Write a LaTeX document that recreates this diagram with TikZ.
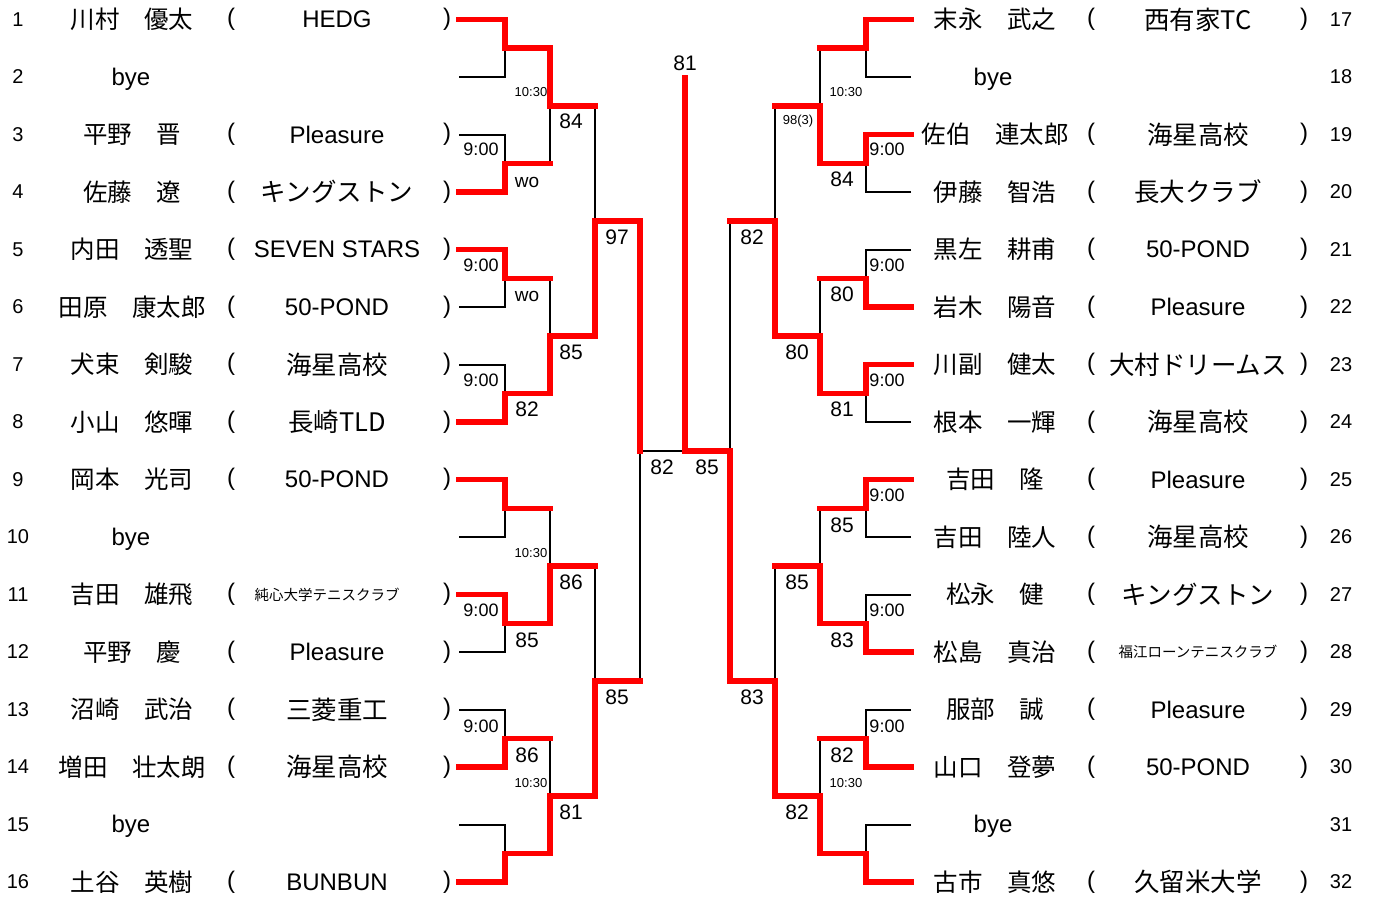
\documentclass[tikz,border=0pt]{standalone}
\usepackage{fontspec}
\setmainfont{Liberation Sans}
\newfontfamily\jp{Noto Sans CJK JP}
\newcommand{\jclub}[1]{{\jp\fontsize{25.5}{26}\selectfont #1}}
\newcommand{\jsmall}[1]{{\jp\fontsize{14.5}{15}\selectfont #1}}
\definecolor{winred}{HTML}{FF0000}

\begin{document}
\begin{tikzpicture}[x = 1pt, y = -1pt]

\tikzset{
winner/.style = {draw = winred, line width = 5.5pt, line cap = rect},
loser/.style = {draw = black, line width = 2pt},
seed/.style = {inner sep = 0pt, font = \fontsize{20}{20}\selectfont},
player/.style = {inner sep = 0pt, font = \jp\fontsize{24.5}{25}\selectfont},
byename/.style = {inner sep = 0pt, yshift = -2pt, font = \fontsize{24}{24}\selectfont},
club/.style = {inner sep = 0pt, font = \fontsize{24}{24}\selectfont},
paren/.style = {inner sep = 0pt, font = \fontsize{24}{24}\selectfont},
score/.style = {inner sep = 0pt, font = \fontsize{21}{21}\selectfont},
clock/.style = {inner sep = 0pt, font = \fontsize{18}{18}\selectfont},
walkover/.style = {inner sep = 0pt, font = \fontsize{19}{19}\selectfont},
smalltime/.style = {inner sep = 0pt, font = \fontsize{13}{13}\selectfont},
	}

\useasboundingbox (0, 0) rectangle (1373, 899);

% Player lines
\foreach \i in {1,...,16} {
  \pgfmathtruncatemacro\rr{\i+16}
  \coordinate (p\i) at (459, {19.5+(\i-1)*57.5});
  \coordinate (p\rr) at (911, {19.5+(\i-1)*57.5});
}
% Rounds
\foreach \k in {1,...,8} {
  \pgfmathtruncatemacro\rr{\k+8}
  \coordinate (m\k) at (505, {19.5+(2*\k-1.5)*57.5});
  \coordinate (m\rr) at (866, {19.5+(2*\k-1.5)*57.5});
}
\foreach \k in {1,...,4} {
  \pgfmathtruncatemacro\rr{\k+4}
  \coordinate (n\k) at (550, {19.5+(4*\k-2.5)*57.5});
  \coordinate (n\rr) at (820, {19.5+(4*\k-2.5)*57.5});
}
\foreach \k in {1,2} {
  \pgfmathtruncatemacro\rr{\k+2}
  \coordinate (q\k) at (595, {19.5+(8*\k-4.5)*57.5});
  \coordinate (q\rr) at (775, {19.5+(8*\k-4.5)*57.5});
}
\coordinate (s1) at (640, 450.75);
\coordinate (s2) at (730, 450.75);
\coordinate (f) at (685, 450.75);
\coordinate (top) at (685, 78);

% Results: winner/loser/match
\def\firstround{p1/p2/m1, p4/p3/m2, p5/p6/m3, p8/p7/m4, p9/p10/m5, p11/p12/m6, p14/p13/m7, p16/p15/m8,
  p17/p18/m9, p19/p20/m10, p22/p21/m11, p23/p24/m12, p25/p26/m13, p28/p27/m14, p30/p29/m15, p32/p31/m16}
\def\laterrounds{m1/m2/n1, m4/m3/n2, m6/m5/n3, m8/m7/n4, m10/m9/n5, m12/m11/n6, m14/m13/n7, m16/m15/n8,
  n2/n1/q1, n4/n3/q2, n6/n5/q3, n8/n7/q4, q1/q2/s1, q4/q3/s2}

% Lost
\foreach \wn/\ls/\mt in \firstround {\draw [loser] (\ls) -| (\mt);}
\foreach \wn/\ls/\mt in \laterrounds {\draw [loser] (\ls -| \mt) -- (\mt);}
\draw [loser] (s1) -- (f);

% Won
\foreach \wn/\ls/\mt in \firstround {\draw [winner] (\wn) -| (\mt);}
\foreach \wn/\ls/\mt in \laterrounds {\draw [winner] (\ls) -- (\ls -| \mt) (\wn) -| (\mt);}
\draw [winner] (s2) -- (f) -- (top);

% Left players
\foreach \i/\nm/\cl in {1/川村　優太/HEDG, 3/平野　晋/Pleasure, 4/佐藤　遼/\jclub{キングストン},
  5/内田　透聖/SEVEN STARS, 6/田原　康太郎/50-POND, 7/犬束　剣駿/\jclub{海星高校},
  8/小山　悠暉/\jclub{長崎TLD}, 9/岡本　光司/50-POND, 12/平野　慶/Pleasure,
  13/沼崎　武治/\jclub{三菱重工}, 14/増田　壮太朗/\jclub{海星高校}, 16/土谷　英樹/BUNBUN} {
  \pgfmathsetmacro\yy{19.5+(\i-1)*57.5}
  \node [seed] (num\i) at (18, \yy) {\i};
  \node [player] (name\i) at (132, \yy) {\nm};
  \node [paren] (lp\i) at (231, \yy) {(};
  \node [club] (club\i) at (337, \yy) {\cl};
  \node [paren] (rp\i) at (447, \yy) {)};
}
\node [seed] (num11) at (18, 594.5) {11};
\node [player] (name11) at (132, 594.5) {吉田　雄飛};
\node [paren] (lp11) at (231, 594.5) {(};
\node [club] (club11) at (327, 594.5) {\jsmall{純心大学テニスクラブ}};
\node [paren] (rp11) at (447, 594.5) {)};
\foreach \i in {2, 10, 15} {
  \pgfmathsetmacro\yy{19.5+(\i-1)*57.5}
  \node [seed] (num\i) at (18, \yy) {\i};
  \node [byename] (name\i) at (131, \yy) {bye};
}

% Right players
\foreach \i/\nm/\cl in {17/末永　武之/\jclub{西有家TC}, 19/佐伯　連太郎/\jclub{海星高校},
  20/伊藤　智浩/\jclub{長大クラブ}, 21/黒左　耕甫/50-POND, 22/岩木　陽音/Pleasure,
  23/川副　健太/\jclub{大村ドリームス}, 24/根本　一輝/\jclub{海星高校}, 25/吉田　隆/Pleasure,
  26/吉田　陸人/\jclub{海星高校}, 27/松永　健/\jclub{キングストン},
  28/松島　真治/\jsmall{福江ローンテニスクラブ}, 29/服部　誠/Pleasure, 30/山口　登夢/50-POND,
  32/古市　真悠/\jclub{久留米大学}} {
  \pgfmathsetmacro\yy{19.5+(\i-17)*57.5}
  \node [seed] (num\i) at (1341, \yy) {\i};
  \node [player] (name\i) at (995, \yy) {\nm};
  \node [paren] (lp\i) at (1091, \yy) {(};
  \node [club] (club\i) at (1198, \yy) {\cl};
  \node [paren] (rp\i) at (1304, \yy) {)};
}
\foreach \i in {18, 31} {
  \pgfmathsetmacro\yy{19.5+(\i-17)*57.5}
  \node [seed] (num\i) at (1341, \yy) {\i};
  \node [byename] (name\i) at (993, \yy) {bye};
}

% Scores
\foreach \x/\y/\t [count = \c] in {571/121/84, 571/352/85, 527/409/82, 617/237/97, 571/582/86,
  527/640/85, 527/755/86, 571/812/81, 617/697/85, 662/467/82, 685/63/81, 707/467/85,
  842/179/84, 752/237/82, 842/294/80, 797/352/80, 842/409/81, 842/525/85, 797/582/85,
  842/640/83, 752/697/83, 842/755/82, 797/812/82}
  \node [score] (score\c) at (\x, \y) {\t};

% Times
\foreach \x/\y [count = \c] in {481/149, 481/265, 481/380, 481/610, 481/726,
  887/149, 887/265, 887/380, 887/495, 887/610, 887/726}
  \node [clock] (time\c) at (\x, \y) {9:00};
\foreach \x/\y [count = \c] in {531/92, 531/553, 531/783, 846/92, 846/783}
  \node [smalltime] (late\c) at (\x, \y) {10:30};
\node [smalltime] (sets) at (798, 121) {98(3)};
\node [walkover] (wo1) at (527, 182) {wo};
\node [walkover] (wo2) at (527, 296) {wo};

\end{tikzpicture}
\end{document}
